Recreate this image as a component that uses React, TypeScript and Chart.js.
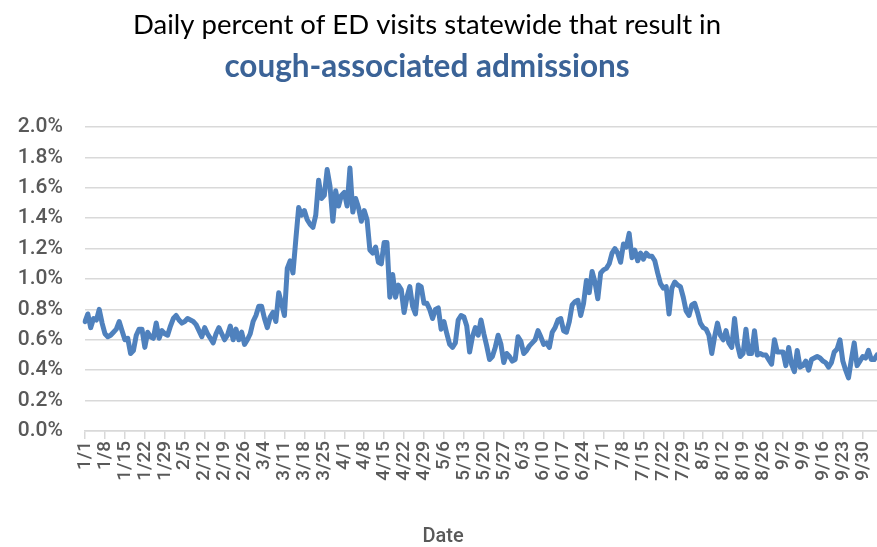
import React, { useEffect, useRef } from 'react';
import { Chart, registerables } from 'chart.js';

Chart.register(...registerables);

// Daily percent (%) of ED visits resulting in cough-associated admissions, by month
const jan = [0.72, 0.77, 0.68, 0.74, 0.73, 0.80, 0.71, 0.64, 0.62, 0.63, 0.65, 0.67, 0.72, 0.66, 0.60, 0.61, 0.51, 0.53, 0.63, 0.67, 0.67, 0.55, 0.65, 0.62, 0.61, 0.71, 0.61, 0.66, 0.64, 0.63, 0.69];
const feb = [0.74, 0.76, 0.73, 0.71, 0.72, 0.74, 0.73, 0.72, 0.70, 0.66, 0.62, 0.68, 0.64, 0.61, 0.58, 0.64, 0.68, 0.64, 0.60, 0.63, 0.69, 0.60, 0.67, 0.60, 0.65, 0.57, 0.60, 0.64, 0.72];
const mar = [0.76, 0.82, 0.82, 0.74, 0.68, 0.75, 0.78, 0.72, 0.91, 0.84, 0.76, 1.07, 1.12, 1.04, 1.26, 1.47, 1.42, 1.45, 1.39, 1.36, 1.34, 1.42, 1.65, 1.53, 1.55, 1.72, 1.61, 1.38, 1.58, 1.48, 1.55];
const apr = [1.57, 1.48, 1.73, 1.44, 1.53, 1.47, 1.38, 1.45, 1.39, 1.19, 1.17, 1.21, 1.11, 1.10, 1.24, 1.24, 0.88, 1.03, 0.88, 0.96, 0.93, 0.78, 0.88, 0.95, 0.82, 0.77, 0.96, 0.95, 0.84, 0.84];
const may = [0.80, 0.74, 0.80, 0.81, 0.67, 0.72, 0.64, 0.57, 0.55, 0.58, 0.73, 0.76, 0.75, 0.69, 0.52, 0.62, 0.68, 0.63, 0.73, 0.64, 0.56, 0.47, 0.49, 0.55, 0.63, 0.57, 0.45, 0.51, 0.49, 0.46, 0.47];
const jun = [0.62, 0.59, 0.51, 0.53, 0.56, 0.58, 0.60, 0.66, 0.62, 0.57, 0.58, 0.55, 0.65, 0.68, 0.73, 0.74, 0.66, 0.65, 0.72, 0.83, 0.85, 0.86, 0.76, 0.84, 0.99, 0.91, 1.05, 0.98, 0.87, 1.04];
const jul = [1.06, 1.07, 1.10, 1.17, 1.20, 1.17, 1.11, 1.23, 1.21, 1.30, 1.14, 1.19, 1.12, 1.17, 1.13, 1.17, 1.15, 1.15, 1.12, 1.04, 0.97, 0.94, 0.95, 0.77, 0.94, 0.98, 0.96, 0.95, 0.88, 0.79, 0.76];
const aug = [0.83, 0.84, 0.78, 0.71, 0.68, 0.67, 0.63, 0.51, 0.62, 0.71, 0.63, 0.60, 0.66, 0.58, 0.55, 0.74, 0.57, 0.49, 0.51, 0.67, 0.51, 0.51, 0.66, 0.50, 0.51, 0.50, 0.50, 0.47, 0.44, 0.60, 0.52];
const sep = [0.52, 0.52, 0.43, 0.55, 0.44, 0.39, 0.53, 0.42, 0.43, 0.46, 0.40, 0.47, 0.48, 0.49, 0.48, 0.46, 0.45, 0.42, 0.45, 0.52, 0.54, 0.60, 0.46, 0.40, 0.35, 0.47, 0.58, 0.43, 0.46, 0.49];
const oct = [0.48, 0.53, 0.47, 0.47, 0.50];

const monthSeries = [jan, feb, mar, apr, may, jun, jul, aug, sep, oct];
const TICK_EVERY = 7; // a date label every 7th day

const TITLE = 'Daily percent of ED visits statewide that result in';
const SUBTITLE = 'cough-associated admissions';
const X_TITLE = 'Date';

const labels: string[] = [];
const values: number[] = [];
monthSeries.forEach((arr, m) => {
  arr.forEach((v, d) => {
    labels.push(`${m + 1}/${d + 1}`);
    values.push(v);
  });
});

const textPlugin = {
  id: 'headerTexts',
  afterDraw(chart: any) {
    const ctx = chart.ctx as CanvasRenderingContext2D;
    ctx.save();
    ctx.textAlign = 'center';
    ctx.textBaseline = 'alphabetic';
    ctx.fillStyle = '#000000';
    ctx.font = '400 27.5px Lato';
    ctx.fillText(TITLE, 427, 34);
    ctx.fillStyle = '#3B6397';
    ctx.font = 'bold 31.5px Lato';
    ctx.fillText(SUBTITLE, 427, 77);
    ctx.fillStyle = '#595959';
    ctx.font = '500 20px Roboto';
    ctx.fillText(X_TITLE, 443, 542);
    ctx.restore();
  },
};

export default function App() {
  const ref = useRef<HTMLCanvasElement>(null);

  useEffect(() => {
    if (!ref.current) return;
    const chart = new Chart(ref.current, {
      type: 'line',
      data: {
        labels,
        datasets: [
          {
            data: values,
            borderColor: '#4F81BD',
            borderWidth: 5,
            pointRadius: 0,
            tension: 0,
            fill: false,
            borderJoinStyle: 'round',
            borderCapStyle: 'round',
          },
        ],
      },
      options: {
        animation: false,
        responsive: true,
        maintainAspectRatio: false,
        layout: { padding: { top: 127, left: 0, right: 0, bottom: 0 } },
        plugins: {
          legend: { display: false },
          tooltip: { enabled: false },
          title: { display: false },
        },
        scales: {
          x: {
            type: 'category',
            offset: false,
            grid: {
              drawOnChartArea: false,
              drawTicks: true,
              tickLength: 8,
              color: '#d9d9d9',
              lineWidth: 1.5,
            },
            border: { display: true, color: '#d9d9d9', width: 1.5 },
            ticks: {
              autoSkip: false,
              minRotation: 90,
              maxRotation: 90,
              padding: 2,
              color: '#595959',
              font: { family: 'Roboto', size: 19, weight: '500' },
              callback: (_v: any, i: number) => (i % TICK_EVERY === 0 ? labels[i] : null),
            },
            afterFit: (s: any) => {
              s.height = 116;
              s.paddingLeft = 0;
              s.paddingRight = 0;
            },
          },
          y: {
            min: 0,
            max: 2,
            grid: { color: '#d9d9d9', lineWidth: 1.5, drawTicks: false },
            border: { display: false },
            ticks: {
              stepSize: 0.2,
              padding: 22,
              color: '#595959',
              font: { family: 'Roboto', size: 21, weight: '500' },
              callback: (v: any) => Number(v).toFixed(1) + '%',
            },
            afterFit: (s: any) => {
              s.width = 85;
              s.paddingTop = 0;
              s.paddingBottom = 0;
            },
          },
        },
      },
      plugins: [textPlugin],
    });
    return () => chart.destroy();
  }, []);

  return (
    <div style={{ position: 'fixed', left: 0, top: 0, width: 877, height: 547, background: '#fff' }}>
      <canvas ref={ref} />
    </div>
  );
}
